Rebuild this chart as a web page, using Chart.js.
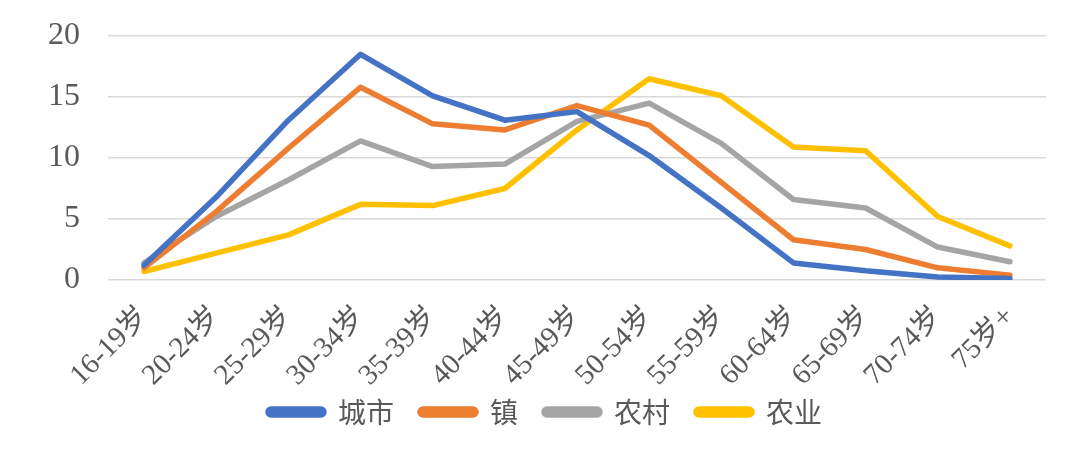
<!DOCTYPE html>
<html>
<head>
<meta charset="utf-8">
<script src="https://cdn.jsdelivr.net/npm/chart.js@4/dist/chart.umd.min.js"></script>
<style>
html,body{margin:0;padding:0;background:#fff;}
#wrap{width:1080px;height:470px;position:relative;}
</style>
</head>
<body>
<div id="wrap"><canvas id="c" width="1080" height="470"></canvas></div>
<script>
const categories = ['16-19岁','20-24岁','25-29岁','30-34岁','35-39岁','40-44岁','45-49岁','50-54岁','55-59岁','60-64岁','65-69岁','70-74岁','75岁+'];
const cityValues  = [1.2, 6.8, 13.1, 18.5, 15.1, 13.1, 13.8, 10.2, 5.9, 1.4, 0.75, 0.25, 0.12];
const townValues  = [1.0, 5.6, 10.8, 15.8, 12.8, 12.3, 14.3, 12.7, 8.0, 3.3, 2.5, 1.0, 0.4];
const ruralValues = [1.4, 5.2, 8.2, 11.4, 9.3, 9.5, 13.0, 14.5, 11.2, 6.6, 5.9, 2.7, 1.5];
const agriValues  = [0.7, 2.2, 3.7, 6.2, 6.1, 7.5, 12.3, 16.5, 15.1, 10.9, 10.6, 5.2, 2.8];
const seriesNames = ['城市','镇','农村','农业'];
const yTicks = [0, 5, 10, 15, 20];

const colors = ['#4472C4','#ED7D31','#A5A5A5','#FFC000'];
const mk = (label, data, color) => ({
  label, data, borderColor: color, backgroundColor: color,
  borderWidth: 5.5, pointRadius: 0, tension: 0, borderJoinStyle: 'round', borderCapStyle: 'round', fill: false
});

new Chart(document.getElementById('c'), {
  type: 'line',
  data: {
    labels: categories,
    datasets: [
      mk(seriesNames[0], cityValues, colors[0]),
      mk(seriesNames[1], townValues, colors[1]),
      mk(seriesNames[2], ruralValues, colors[2]),
      mk(seriesNames[3], agriValues, colors[3])
    ]
  },
  options: {
    responsive: false,
    animation: false,
    devicePixelRatio: 1,
    layout: { padding: { left: 10, right: 0, top: 36, bottom: 34 } },
    plugins: {
      tooltip: { enabled: false },
      legend: {
        position: 'bottom',
        labels: {
          boxWidth: 56, boxHeight: 6,
          useBorderRadius: true, borderRadius: 3,
          color: '#595959',
          font: { family: "'Noto Sans CJK SC', sans-serif", size: 28 },
          padding: 26
        }
      }
    },
    scales: {
      x: {
        offset: true,
        grid: { display: false },
        border: { display: false },
        afterFit: (s) => { s.height = 92; s._computeLabelArea = () => undefined; },
        ticks: {
          color: '#595959',
          font: { family: "'Liberation Serif', 'Noto Sans CJK SC', serif", size: 29 },
          minRotation: 45, maxRotation: 45, padding: 12, autoSkip: false
        }
      },
      y: {
        min: 0, max: 20,
        afterBuildTicks: (s) => { s.ticks = yTicks.map(v => ({ value: v })); },
        afterFit: (s) => { s.width = 98; s.paddingTop = 0; s.paddingBottom = 0; },
        grid: { color: '#d9d9d9', lineWidth: 1.5, drawTicks: false },
        border: { display: false },
        ticks: {
          color: '#595959',
          font: { family: "'Liberation Serif', serif", size: 32 },
          padding: 28
        }
      },
      y2: {
        position: 'right',
        min: 0, max: 20,
        afterFit: (s) => { s.width = 34; s.paddingTop = 0; s.paddingBottom = 0; },
        grid: { display: false },
        border: { display: false },
        ticks: { display: false }
      }
    }
  }
});
</script>
</body>
</html>
